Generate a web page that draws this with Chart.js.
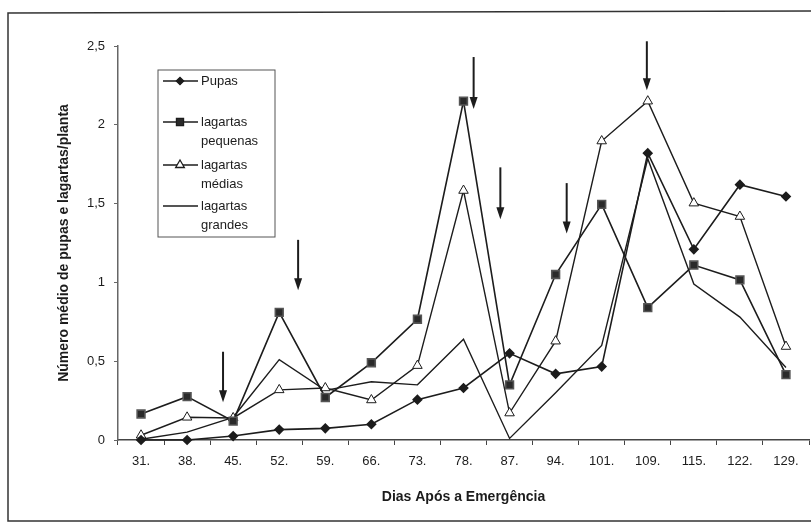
<!DOCTYPE html>
<html>
<head>
<meta charset="utf-8">
<script src="https://cdn.jsdelivr.net/npm/chart.js@4"></script>
<style>
  html, body { margin: 0; padding: 0; background: #fff; }
  #wrap { width: 811px; height: 525px; }
</style>
</head>
<body>
<div id="wrap"><canvas id="grafico" width="811" height="525"></canvas></div>
<script>
// Dias após a emergência
const dias = ["31.", "38.", "45.", "52.", "59.", "66.", "73.", "78.", "87.", "94.", "101.", "109.", "115.", "122.", "129."];

// Médias por planta
const pupas = [0, 0.0, 0.025, 0.066, 0.074, 0.10, 0.256, 0.33, 0.55, 0.42, 0.466, 1.82, 1.21, 1.62, 1.545];
const lagartasPequenas = [0.165, 0.275, 0.12, 0.81, 0.27, 0.49, 0.766, 2.15, 0.35, 1.05, 1.495, 0.84, 1.11, 1.016, 0.415];
const lagartasMedias = [0.03, 0.144, 0.14, 0.318, 0.33, 0.254, 0.472, 1.583, 0.171, 0.627, 1.897, 2.15, 1.503, 1.418, 0.593];
const lagartasGrandes = [0.005, 0.05, 0.144, 0.51, 0.315, 0.37, 0.35, 0.64, 0.01, 0.30, 0.60, 1.785, 0.99, 0.78, 0.46];

// Setas (posição em índice de categoria, topo e ponta em unidades do eixo y)
const setaX = [1.78, 3.41, 7.22, 7.80, 9.24, 10.98];
const setaTopo = [0.56, 1.27, 2.43, 1.73, 1.63, 2.53];
const setaPonta = [0.24, 0.95, 2.10, 1.40, 1.31, 2.22];

const COR = "#1c1c1c";
const FONTE = "'Liberation Sans', Arial, sans-serif";

// Moldura, setas e legenda desenhadas à mão
const extras = {
    id: "extras",
    afterDraw(chart) {
        const ctx = chart.ctx;
        const sx = chart.scales.x;
        const sy = chart.scales.y;
        ctx.save();

        // moldura
        ctx.strokeStyle = "#333";
        ctx.lineWidth = 1.5;
        ctx.beginPath();
        ctx.moveTo(830, 11);
        ctx.lineTo(8, 13);
        ctx.lineTo(8, 521);
        ctx.lineTo(830, 521);
        ctx.stroke();

        // setas
        ctx.strokeStyle = COR;
        ctx.fillStyle = COR;
        ctx.lineWidth = 2;
        for (let i = 0; i < setaX.length; i++) {
            const x0 = sx.getPixelForValue(0);
            const x1 = sx.getPixelForValue(1);
            const x = x0 + (x1 - x0) * setaX[i];
            const yt = sy.getPixelForValue(setaTopo[i]);
            const yp = sy.getPixelForValue(setaPonta[i]);
            ctx.beginPath();
            ctx.moveTo(x, yt);
            ctx.lineTo(x, yp - 10);
            ctx.stroke();
            ctx.beginPath();
            ctx.moveTo(x - 4, yp - 12);
            ctx.lineTo(x + 4, yp - 12);
            ctx.lineTo(x, yp);
            ctx.closePath();
            ctx.fill();
        }

        // legenda
        const bx = 158, by = 70, bw = 117, bh = 167;
        ctx.strokeStyle = "#555";
        ctx.lineWidth = 1;
        ctx.strokeRect(bx, by, bw, bh);
        ctx.font = "13px " + FONTE;
        ctx.textBaseline = "middle";
        ctx.fillStyle = COR;
        const linhas = [
            { y: 81, txt: ["Pupas"] },
            { y: 122, txt: ["lagartas", "pequenas"] },
            { y: 165, txt: ["lagartas", "médias"] },
            { y: 206, txt: ["lagartas", "grandes"] }
        ];
        chart.data.datasets.forEach((ds, i) => {
            const yy = linhas[i].y;
            ctx.strokeStyle = COR;
            ctx.lineWidth = 1.3;
            ctx.beginPath();
            ctx.moveTo(163, yy);
            ctx.lineTo(198, yy);
            ctx.stroke();
            if (ds.pointStyle && ds.pointRadius > 0) {
                ctx.fillStyle = ds.pointBackgroundColor;
                ctx.strokeStyle = COR;
                Chart.helpers.drawPoint(ctx, {
                    pointStyle: ds.pointStyle,
                    radius: ds.pointRadius - 0.5,
                    borderWidth: 1,
                    rotation: 0
                }, 180, yy);
            }
            ctx.fillStyle = COR;
            linhas[i].txt.forEach((t, k) => ctx.fillText(t, 201, yy + k * 19));
        });

        ctx.restore();
    }
};

new Chart(document.getElementById("grafico").getContext("2d"), {
    type: "line",
    data: {
        labels: dias,
        datasets: [
            {
                label: "Pupas",
                data: pupas,
                borderColor: COR,
                borderWidth: 1.6,
                pointStyle: "rectRot",
                pointRadius: 4.2,
                pointBackgroundColor: COR,
                pointBorderColor: COR,
                tension: 0,
                clip: false
            },
            {
                label: "lagartas pequenas",
                data: lagartasPequenas,
                borderColor: COR,
                borderWidth: 1.6,
                pointStyle: "rect",
                pointRadius: 5.5,
                pointBackgroundColor: "#2a2a2a",
                pointBorderColor: "#555",
                tension: 0,
                clip: false
            },
            {
                label: "lagartas médias",
                data: lagartasMedias,
                borderColor: COR,
                borderWidth: 1.4,
                pointStyle: "triangle",
                pointRadius: 5.5,
                pointBackgroundColor: "#fff",
                pointBorderColor: COR,
                pointBorderWidth: 1,
                tension: 0,
                clip: false
            },
            {
                label: "lagartas grandes",
                data: lagartasGrandes,
                borderColor: COR,
                borderWidth: 1.4,
                pointRadius: 0,
                tension: 0,
                clip: false
            }
        ]
    },
    options: {
        responsive: false,
        animation: false,
        layout: { autoPadding: false, padding: { left: 0, right: 2, top: 46, bottom: 0 } },
        plugins: {
            legend: { display: false },
            tooltip: { enabled: false }
        },
        scales: {
            x: {
                offset: true,
                grid: { display: true, drawOnChartArea: false, offset: true, tickLength: 5, color: "#444" },
                border: { display: true, color: "#444", width: 1.5 },
                ticks: { color: COR, font: { family: FONTE, size: 13 }, padding: 9, maxRotation: 0, autoSkip: false },
                title: {
                    display: true,
                    text: "Dias Após a Emergência",
                    color: COR,
                    font: { family: FONTE, size: 14, weight: "bold" },
                    padding: { top: 0, bottom: 19 }
                },
                afterFit(scale) {
                    scale.height = 85;
                    scale.paddingLeft = 0;
                    scale.paddingRight = 0;
                }
            },
            y: {
                min: 0,
                max: 2.5,
                grid: { display: true, drawOnChartArea: false, tickLength: 4, color: "#666" },
                border: { display: true, color: "#666", width: 1.5 },
                ticks: {
                    stepSize: 0.5,
                    color: COR,
                    font: { family: FONTE, size: 13 },
                    padding: 9,
                    callback: (v) => String(v).replace(".", ",")
                },
                title: {
                    display: true,
                    text: "Número médio de pupas e lagartas/planta",
                    color: COR,
                    font: { family: FONTE, size: 14, weight: "bold" },
                    padding: { top: 56, bottom: 0 }
                },
                afterFit(scale) {
                    scale.width = 118;
                    scale.paddingTop = 0;
                    scale.paddingBottom = 0;
                }
            }
        }
    },
    plugins: [extras]
});
</script>
</body>
</html>
